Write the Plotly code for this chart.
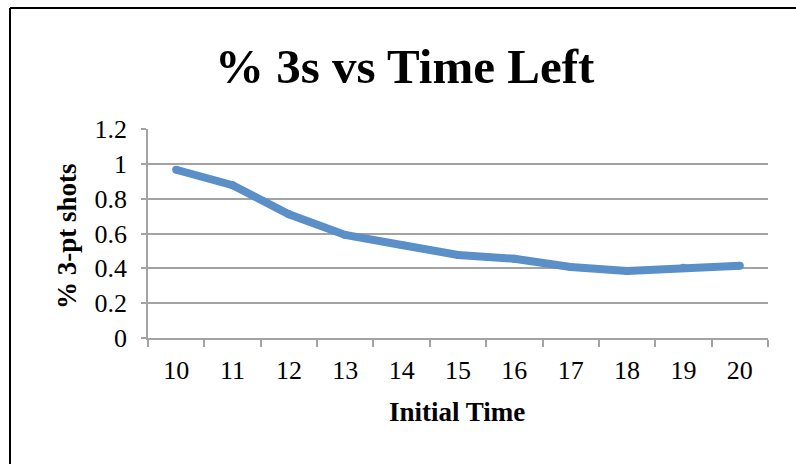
import plotly.graph_objects as go

# Initial time on the clock (seconds) and share of shots that were 3-pointers
initial_time = ["10", "11", "12", "13", "14", "15", "16", "17", "18", "19", "20"]
pct_threes = [0.966, 0.877, 0.71, 0.592, 0.534, 0.477, 0.455, 0.408, 0.385, 0.403, 0.415]

y_ticks = [0, 0.2, 0.4, 0.6, 0.8, 1.0, 1.2]
y_tick_text = ["0", "0.2", "0.4", "0.6", "0.8", "1", "1.2"]

W, H = 796, 464
L, R, T, B = 148, 28, 129, 126
plot_w, plot_h = W - L - R, H - T - B


def px_x(x):
    return (x - L) / plot_w


def px_y(y):
    return (H - B - y) / plot_h


serif = "Liberation Serif"
line_color = "#5A8FC7"
grid_color = "#A3A3A3"

fig = go.Figure(
    go.Scatter(
        x=initial_time,
        y=pct_threes,
        mode="lines+markers",
        line=dict(color=line_color, width=8),
        marker=dict(color=line_color, size=8),
        hoverinfo="skip",
    )
)

fig.update_layout(
    width=W,
    height=H,
    margin=dict(l=L, r=R, t=T, b=B, pad=0),
    paper_bgcolor="white",
    plot_bgcolor="white",
    showlegend=False,
    font=dict(family=serif, color="black", size=26),
)

fig.update_xaxes(
    type="category",
    range=[-0.5, len(initial_time) - 0.5],
    tickson="boundaries",
    ticks="outside",
    ticklen=7,
    tickwidth=1.5,
    tickcolor=grid_color,
    showline=True,
    linecolor=grid_color,
    linewidth=1.5,
    showgrid=False,
    zeroline=False,
    tickfont=dict(family=serif, size=26, color="black"),
    ticklabelstandoff=8,
)

fig.update_yaxes(
    range=[0, 1.2],
    tickvals=y_ticks,
    ticktext=y_tick_text,
    ticks="outside",
    ticklen=5,
    tickwidth=1.5,
    tickcolor=grid_color,
    showline=True,
    linecolor=grid_color,
    linewidth=1.5,
    showgrid=True,
    gridcolor=grid_color,
    gridwidth=1.5,
    zeroline=False,
    tickfont=dict(family=serif, size=26, color="black"),
    ticklabelstandoff=9,
)

annotations = [
    dict(
        text="<b>% 3s vs Time Left</b>",
        x=px_x(405), y=px_y(66),
        font=dict(family=serif, size=49, color="black"),
    ),
    dict(
        text="<b>Initial Time</b>",
        x=px_x(457), y=px_y(412),
        font=dict(family=serif, size=27, color="black"),
    ),
    dict(
        text="<b>% 3-pt shots</b>",
        x=px_x(67), y=px_y(236),
        textangle=-90,
        font=dict(family=serif, size=27, color="black"),
    ),
]
for a in annotations:
    a.update(xref="paper", yref="paper", showarrow=False,
             xanchor="center", yanchor="middle")
fig.update_layout(annotations=annotations)

# Chart frame: top and left edges of the box
frame = dict(color="black", width=2)
fig.add_shape(type="line", xref="paper", yref="paper",
              x0=px_x(10), x1=px_x(W + 20), y0=px_y(8), y1=px_y(8), line=frame)
fig.add_shape(type="line", xref="paper", yref="paper",
              x0=px_x(10), x1=px_x(10), y0=px_y(8), y1=px_y(H + 20), line=frame)

fig.write_html("out.html")
